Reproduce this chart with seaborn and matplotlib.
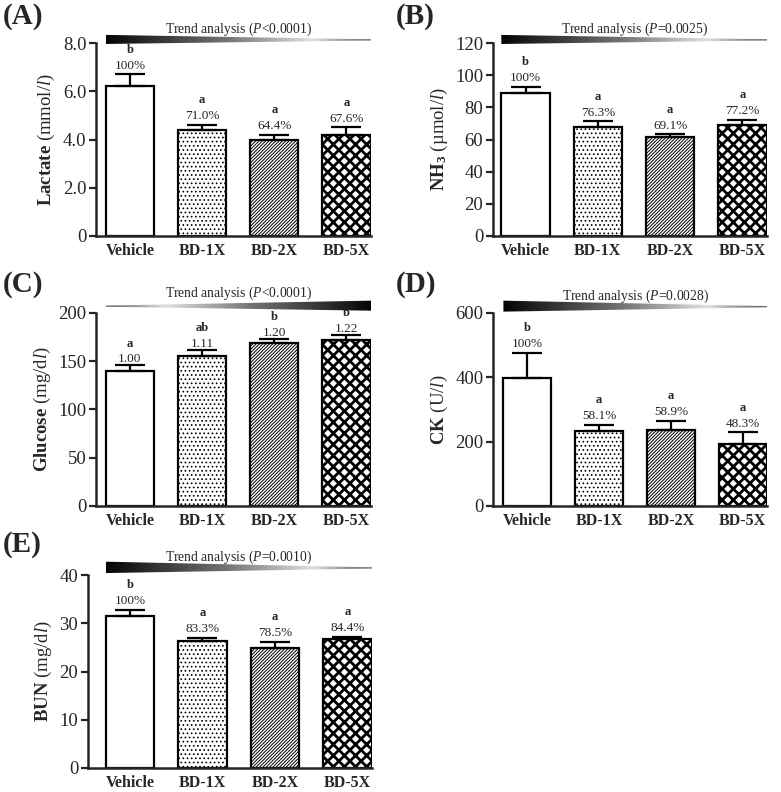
import numpy as np
import matplotlib
matplotlib.use("Agg")
import matplotlib.pyplot as plt
import seaborn as sns
from matplotlib.patches import Polygon
from matplotlib.colors import LinearSegmentedColormap
from matplotlib.transforms import blended_transform_factory

# ---------------- data ----------------
groups = ["Vehicle", "BD-1X", "BD-2X", "BD-5X"]

lactate_mean = [6.2, 4.4, 4.0, 4.2]
lactate_sem = [0.5, 0.2, 0.2, 0.3]
lactate_letters = ["b", "a", "a", "a"]
lactate_pct = ["100%", "71.0%", "64.4%", "67.6%"]

nh3_mean = [89.2, 68.0, 61.3, 69.2]
nh3_sem = [3.7, 3.3, 1.9, 3.1]
nh3_letters = ["b", "a", "a", "a"]
nh3_pct = ["100%", "76.3%", "69.1%", "77.2%"]

glucose_mean = [140.4, 155.3, 168.5, 171.6]
glucose_sem = [5.2, 6.6, 4.1, 5.2]
glucose_letters = ["a", "ab", "b", "b"]
glucose_ratio = ["1.00", "1.11", "1.20", "1.22"]

ck_mean = [397, 232, 235, 193]
ck_sem = [80, 20, 29, 36]
ck_letters = ["b", "a", "a", "a"]
ck_pct = ["100%", "58.1%", "58.9%", "48.3%"]

bun_mean = [31.6, 26.3, 24.8, 26.7]
bun_sem = [1.1, 0.7, 1.3, 0.5]
bun_letters = ["b", "a", "a", "a"]
bun_pct = ["100%", "83.3%", "78.5%", "84.4%"]

trend_texts = ["Trend analysis ($\\mathit{P}$<0.0001)",
               "Trend analysis ($\\mathit{P}$=0.0025)",
               "Trend analysis ($\\mathit{P}$<0.0001)",
               "Trend analysis ($\\mathit{P}$=0.0028)",
               "Trend analysis ($\\mathit{P}$=0.0010)"]

hatches = ["", "....", "//////////", "xxx"]

# ---------------- style ----------------
sns.set_style("ticks")
plt.rcParams["font.family"] = ["Liberation Serif", "DejaVu Serif"]
plt.rcParams["mathtext.fontset"] = "custom"
plt.rcParams["mathtext.rm"] = "Liberation Serif"
plt.rcParams["mathtext.it"] = "Liberation Serif:italic"
plt.rcParams["mathtext.bf"] = "Liberation Serif:bold"
plt.rcParams["hatch.linewidth"] = 0.8

W, H = 781, 792
fig = plt.figure(figsize=(W / 100, H / 100), dpi=100)

BAR_W = 0.67
wedge_cmap = LinearSegmentedColormap.from_list(
    "wedge", [(0.0, (0.02, 0.02, 0.02)), (0.45, (0.45, 0.45, 0.45)),
              (0.78, (0.88, 0.88, 0.88)), (1.0, (0.35, 0.35, 0.35))])


def px_axes(l, r, t, b):
    return fig.add_axes([l / W, 1 - b / H, (r - l) / W, (b - t) / H])


panels = [
    dict(rect=(96, 371, 43, 236), mean=lactate_mean, sem=lactate_sem, letters=lactate_letters,
         labels=lactate_pct, ylim=8.0, ticks=[0, 2, 4, 6, 8], ticklabels=["0", "2.0", "4.0", "6.0", "8.0"],
         ylabel="$\\mathbf{Lactate}$ (mmol/$\\mathit{l}$)", lpad=0.47, tag="(A)", tagpos=(3, 16),
         tri=(1.042, 0.995), thick_left=True, ty=1.052, trend=trend_texts[0], off=2),
    dict(rect=(493, 767, 43, 236), mean=nh3_mean, sem=nh3_sem, letters=nh3_letters,
         labels=nh3_pct, ylim=120, ticks=[0, 20, 40, 60, 80, 100, 120], ticklabels=None,
         ylabel="$\\mathbf{NH_3}$ (µmol/$\\mathit{l}$)", lpad=0.45, tag="(B)", tagpos=(396, 16),
         tri=(1.042, 0.995), thick_left=True, ty=1.052, trend=trend_texts[1], off=2),
    dict(rect=(96, 371, 313, 506), mean=glucose_mean, sem=glucose_sem, letters=glucose_letters,
         labels=glucose_ratio, ylim=200, ticks=[0, 50, 100, 150, 200], ticklabels=None,
         ylabel="$\\mathbf{Glucose}$ (mg/d$\\mathit{l}$)", lpad=0.47, tag="(C)", tagpos=(3, 284),
         tri=(1.064, 1.012), thick_left=False, ty=1.083, trend=trend_texts[2], off=0),
    dict(rect=(493, 767, 313, 506), mean=ck_mean, sem=ck_sem, letters=ck_letters,
         labels=ck_pct, ylim=600, ticks=[0, 200, 400, 600], ticklabels=None,
         ylabel="$\\mathbf{CK}$ (U/$\\mathit{l}$)", lpad=0.48, tag="(D)", tagpos=(396, 284),
         tri=(1.064, 1.007), thick_left=True, ty=1.067, trend=trend_texts[3], off=2),
    dict(rect=(88, 372, 575, 768), mean=bun_mean, sem=bun_sem, letters=bun_letters,
         labels=bun_pct, ylim=40, ticks=[0, 10, 20, 30, 40], ticklabels=None,
         ylabel="$\\mathbf{BUN}$ (mg/d$\\mathit{l}$)", lpad=0.58, tag="(E)", tagpos=(3, 544),
         tri=(1.069, 1.010), thick_left=True, ty=1.073, trend=trend_texts[4], off=2),
]

for p in panels:
    ax = px_axes(*p["rect"])
    sns.barplot(x=groups, y=p["mean"], ax=ax, color="white", edgecolor="black",
                linewidth=1.6, width=BAR_W, saturation=1, errorbar=None)
    for patch, h in zip(ax.patches, hatches):
        patch.set_hatch(h)
        patch.set_facecolor("white")
        patch.set_edgecolor("black")
        if hasattr(patch, "set_hatch_linewidth"):
            patch.set_hatch_linewidth(2.0 if h.startswith("x") else 0.7)
    xs = np.arange(len(groups))
    ax.errorbar(xs, p["mean"], yerr=[np.zeros(len(groups)), p["sem"]], fmt="none",
                ecolor="black", elinewidth=1.6, capsize=11, capthick=1.6, zorder=3)

    xlo, xhi = -p["lpad"], len(groups) - 1 + 0.34
    ax.set_xlim(xlo, xhi)
    ax.set_ylim(0, p["ylim"])
    ax.set_yticks(p["ticks"])
    if p["ticklabels"] is not None:
        ax.set_yticklabels(p["ticklabels"])
    ax.tick_params(axis="y", labelsize=13.5, width=1.6, length=5, pad=2, direction="out")
    ax.tick_params(axis="x", length=0, pad=5)
    ax.set_xticks(xs)
    ax.set_xticklabels(groups, fontsize=11.5, fontweight="bold")
    ax.set_ylabel(p["ylabel"], fontsize=13.5, labelpad=4)
    ax.set_xlabel("")
    for s in ["top", "right"]:
        ax.spines[s].set_visible(False)
    for s in ["left", "bottom"]:
        ax.spines[s].set_linewidth(1.8)

    # annotations
    for i in range(len(groups)):
        top = p["mean"][i] + p["sem"][i]
        ax.annotate(p["labels"][i], (xs[i], top), xytext=(0, p["off"]), textcoords="offset points",
                    ha="center", va="bottom", fontsize=9.5)
        ax.annotate(p["letters"][i], (xs[i], top), xytext=(0, p["off"] + 11.5),
                    textcoords="offset points", ha="center", va="bottom", fontsize=9,
                    fontweight="bold")

    # gradient wedge (image clipped to a tapering polygon)
    trans = blended_transform_factory(ax.transData, ax.transAxes)
    x0 = -BAR_W / 2
    x1 = xhi
    ttop, tbot = p["tri"]
    tipc = tbot + 0.45 * (ttop - tbot)
    tiph = 0.003
    if p["thick_left"]:
        verts = [(x0, ttop), (x1, tipc + tiph), (x1, tipc - tiph), (x0, tbot)]
        grad = np.linspace(0, 1, 400)
    else:
        verts = [(x0, tipc + tiph), (x1, ttop), (x1, tbot), (x0, tipc - tiph)]
        grad = np.linspace(1, 0, 400)
    wedge = Polygon(verts, closed=True, transform=trans, facecolor="none", edgecolor="none")
    im = ax.imshow(grad[np.newaxis, :], cmap=wedge_cmap, vmin=0, vmax=1, aspect="auto",
                   extent=[x0, x1, tbot - 0.01, ttop + 0.01], transform=trans,
                   interpolation="bilinear", zorder=5)
    im.set_clip_box(fig.bbox)
    im.set_clip_path(wedge)
    ax.set_xlim(xlo, xhi)
    ax.set_ylim(0, p["ylim"])
    ax.set_aspect("auto")

    ax.text((x0 + x1) / 2, p["ty"], p["trend"], transform=trans, ha="center",
            va="baseline", fontsize=9.8, clip_on=False)

    fig.text(p["tagpos"][0] / W, 1 - p["tagpos"][1] / H, p["tag"], fontsize=21,
             fontweight="bold", ha="left", va="center")

fig.savefig("out.png", dpi=100)
